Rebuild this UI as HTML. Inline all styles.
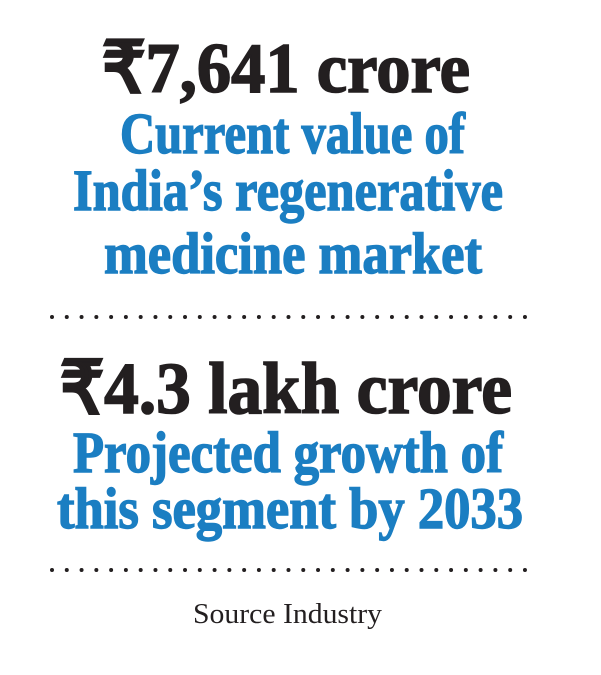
<!DOCTYPE html>
<html><head><meta charset="utf-8"><style>
html,body{margin:0;padding:0;background:#fff;}
svg{display:block;}
.k{fill:#231f20;stroke:#231f20;stroke-width:1.6;font-family:"Liberation Serif",serif;font-weight:bold;}
.b{fill:#1b7ec2;stroke:#1b7ec2;stroke-width:1.4;font-family:"Liberation Serif",serif;font-weight:bold;}
.s{fill:#231f20;font-family:"Liberation Serif",serif;}
</style></head><body>
<svg width="601" height="675" viewBox="0 0 601 675">
<rect width="601" height="675" fill="#fff"/>
<text class="k" x="102" y="92" font-size="71" textLength="368" lengthAdjust="spacingAndGlyphs">₹7,641 crore</text>
<text class="b" x="120" y="153" font-size="58" textLength="345" lengthAdjust="spacingAndGlyphs">Current value of</text>
<text class="b" x="73" y="210" font-size="58" textLength="430" lengthAdjust="spacingAndGlyphs">India’s regenerative</text>
<text class="b" x="104" y="273" font-size="58" textLength="378" lengthAdjust="spacingAndGlyphs">medicine market</text>
<line x1="52" y1="317" x2="525" y2="317" stroke="#231f20" stroke-width="4" stroke-dasharray="0 14.78" stroke-linecap="round"/>
<text class="k" x="60" y="413" font-size="73" textLength="452" lengthAdjust="spacingAndGlyphs">₹4.3 lakh crore</text>
<text class="b" x="73" y="472" font-size="58" textLength="430" lengthAdjust="spacingAndGlyphs">Projected growth of</text>
<text class="b" x="57" y="528" font-size="58" textLength="466" lengthAdjust="spacingAndGlyphs">this segment by 2033</text>
<line x1="52" y1="570" x2="525" y2="570" stroke="#231f20" stroke-width="4" stroke-dasharray="0 14.78" stroke-linecap="round"/>
<text class="s" x="193" y="623" font-size="28" textLength="189" lengthAdjust="spacingAndGlyphs">Source Industry</text>
</svg>
</body></html>
